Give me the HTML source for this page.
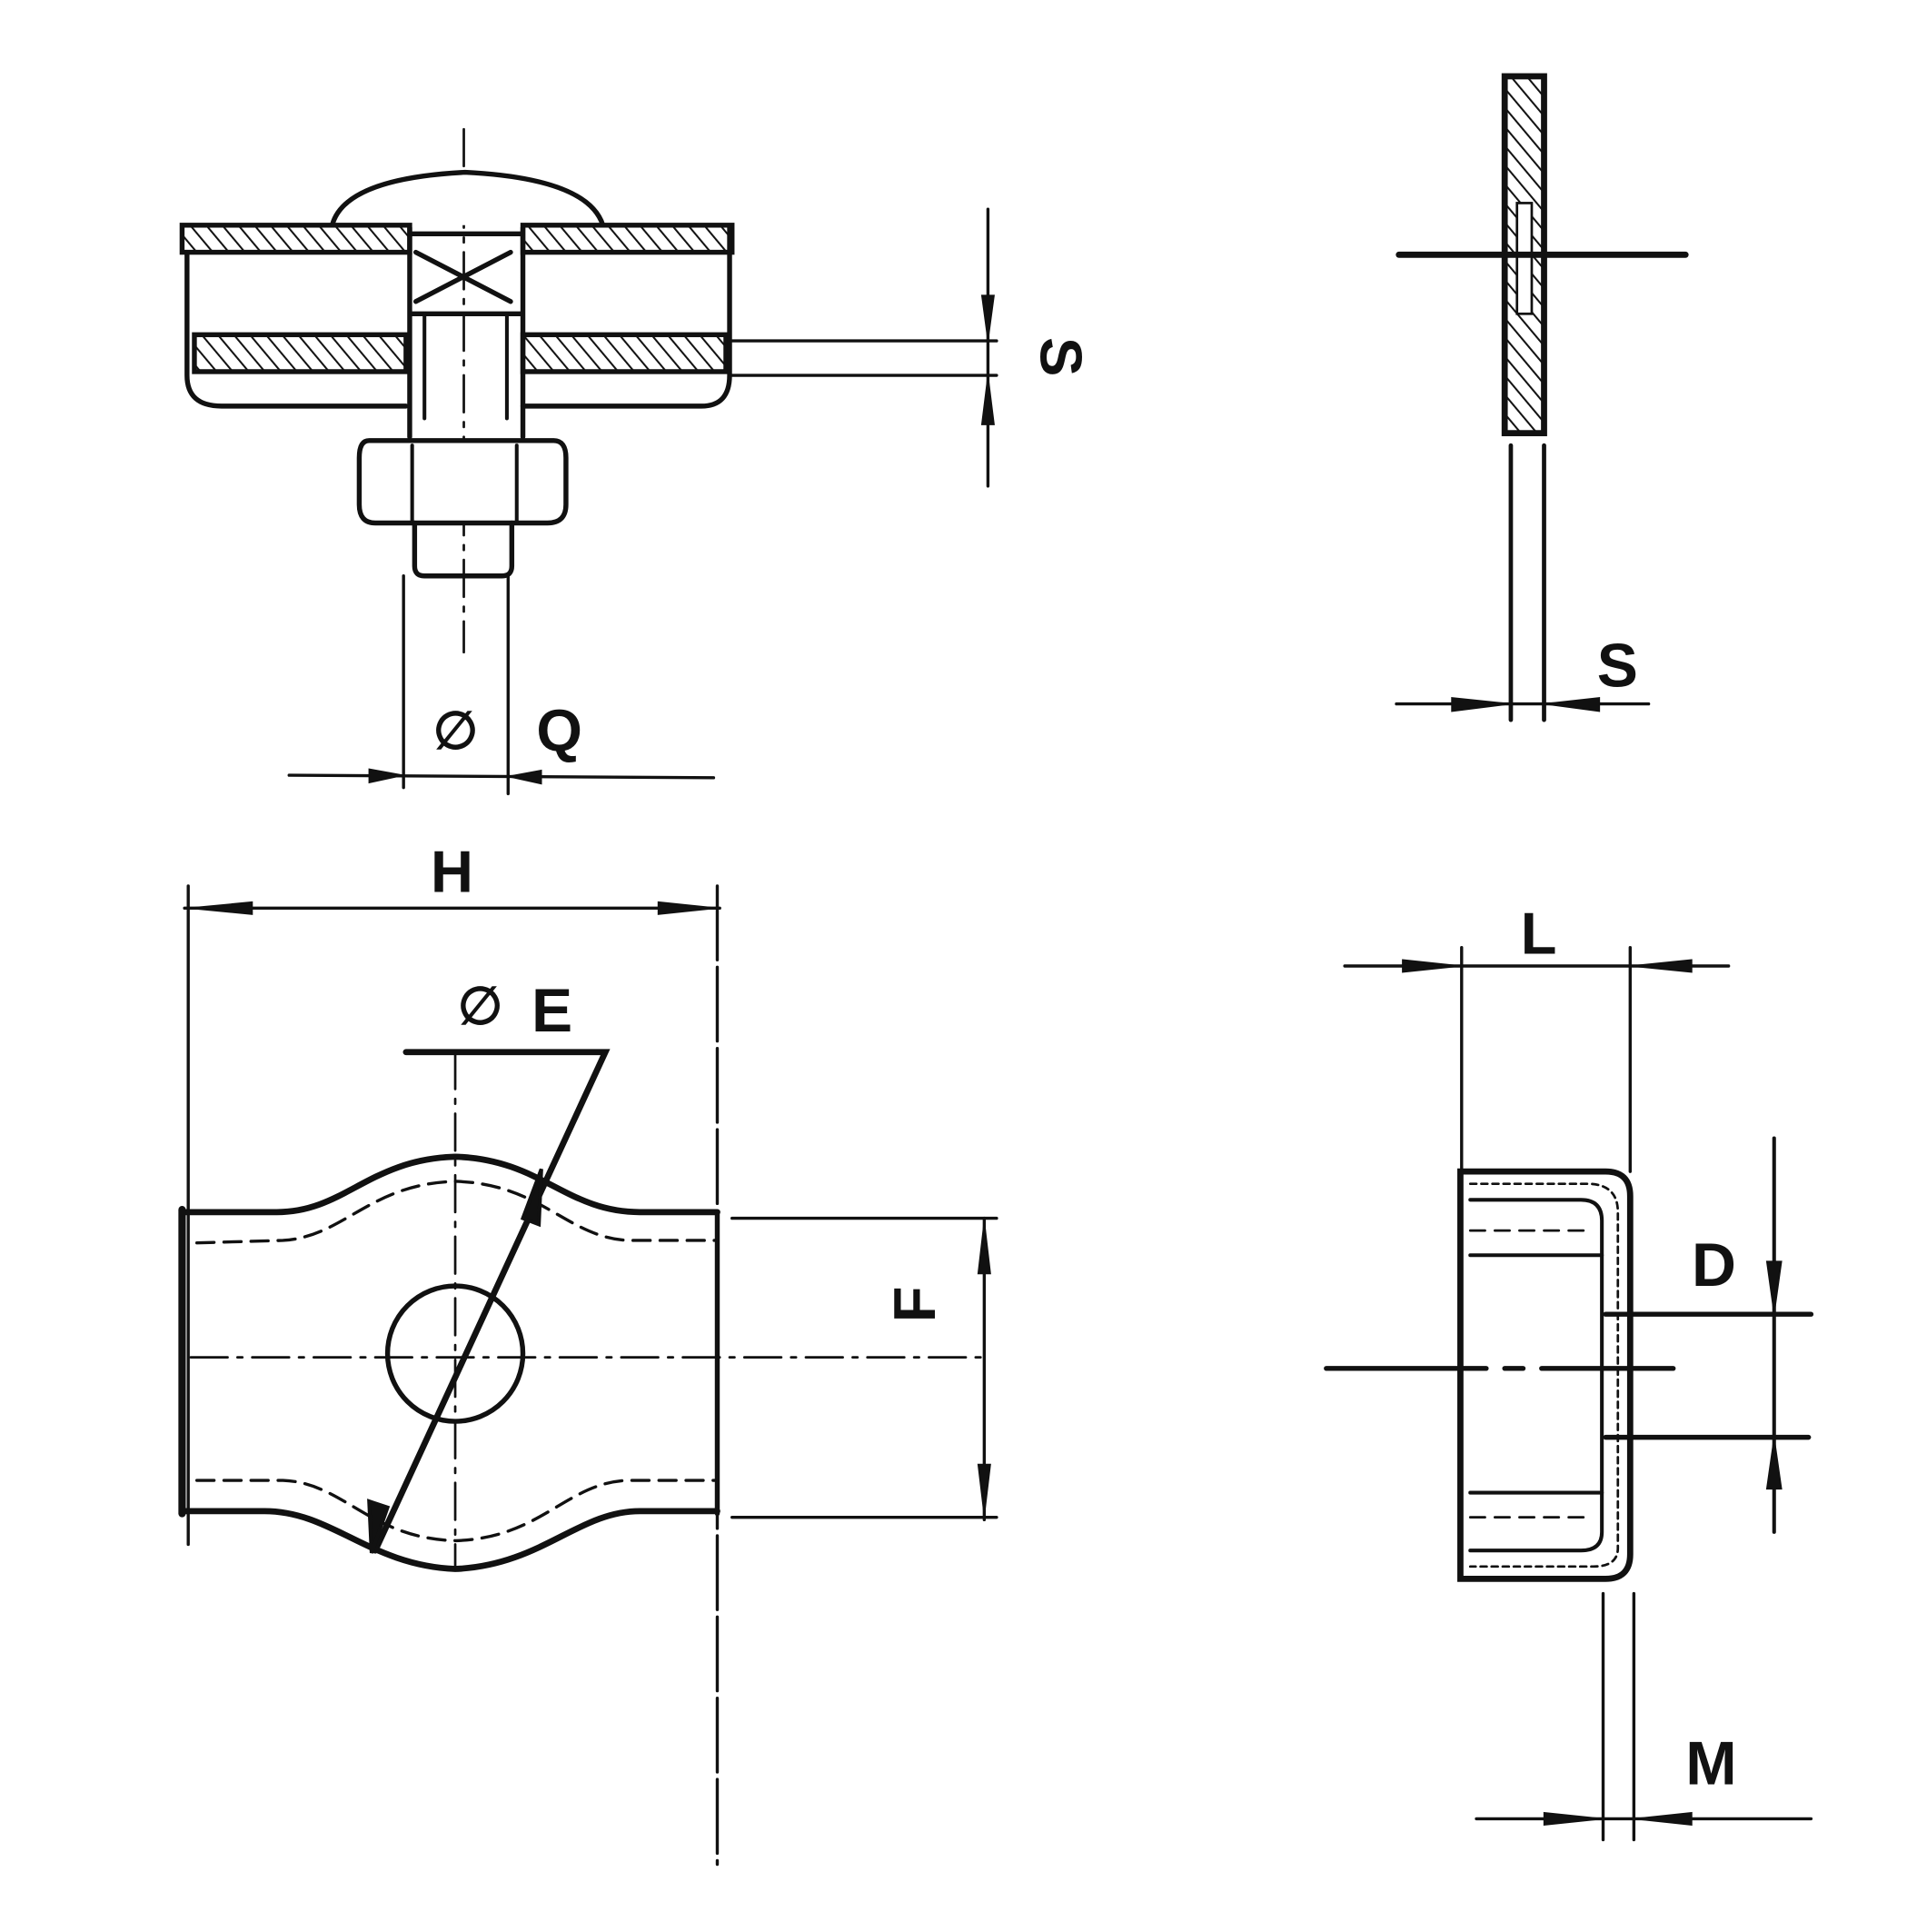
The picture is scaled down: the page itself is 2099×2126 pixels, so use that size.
<!DOCTYPE html>
<html><head><meta charset="utf-8"><style>
html,body{margin:0;padding:0;background:#fff;}
svg{display:block}
text{font-family:"Liberation Sans",sans-serif;font-weight:bold;fill:#111}
</style></head><body>
<svg width="2099" height="2126" viewBox="0 0 1550 1570" preserveAspectRatio="none" xmlns="http://www.w3.org/2000/svg">
<defs>
<pattern id="h" width="10" height="10" patternUnits="userSpaceOnUse" patternTransform="rotate(-40)">
<rect width="10" height="10" fill="#fff"/><line x1="0" y1="0" x2="0" y2="10" stroke="#111" stroke-width="3"/></pattern>
</defs>
<g stroke="#111" fill="none" stroke-linecap="round">
<!-- TOP LEFT -->
<line x1="377" y1="105" x2="377" y2="530" stroke-width="2" stroke-dasharray="30,8,4,8"/>
<path d="M270 183 Q280 145 378 140 Q478 145 490 183" stroke-width="4" fill="#fff"/>
<rect x="148" y="183" width="185" height="22" fill="url(#h)" stroke-width="4"/>
<rect x="425" y="183" width="170" height="22" fill="url(#h)" stroke-width="4"/>
<rect x="158" y="272" width="172" height="30" fill="url(#h)" stroke-width="4"/>
<rect x="425" y="272" width="165" height="30" fill="url(#h)" stroke-width="4"/>
<path d="M152 205 L152 305 Q152 330 180 330 L330 330" stroke-width="4"/>
<path d="M425 330 L570 330 Q593 330 593 305 L593 185" stroke-width="4"/>
<path d="M333 185 L333 355 M425 185 L425 355 M333 190 L425 190 M338 205 L415 245 M415 205 L338 245 M333 255 L425 255" stroke-width="4"/>
<path d="M345 255 L345 340 M412 255 L412 340" stroke-width="3"/>
<path d="M300 358 L450 358 Q460 358 460 372 L460 410 Q460 425 445 425 L305 425 Q292 425 292 410 L292 372 Q292 358 300 358 Z" stroke-width="4" fill="#fff"/>
<path d="M335 362 L335 425 M420 362 L420 425" stroke-width="3"/>
<path d="M337 425 L337 460 Q337 468 345 468 L408 468 Q416 468 416 460 L416 425" stroke-width="4"/>
<line x1="328" y1="468" x2="328" y2="640" stroke-width="2.5"/>
<line x1="413" y1="468" x2="413" y2="645" stroke-width="2.5"/>
<line x1="235" y1="630" x2="580" y2="632" stroke-width="2.5"/>
<path d="M300 625 L328 630 L300 636 Z M440 626 L413 631 L440 637 Z" fill="#111" stroke-width="1"/>
<line x1="595" y1="277" x2="810" y2="277" stroke-width="2.5"/>
<line x1="595" y1="305" x2="810" y2="305" stroke-width="2.5"/>
<line x1="803" y1="170" x2="803" y2="395" stroke-width="2.5"/>
<path d="M798 240 L803 277 L808 240 Z M798 345 L803 305 L808 345 Z" fill="#111" stroke-width="1"/>
<!-- TOP RIGHT -->
<rect x="1223" y="62" width="32" height="290" fill="url(#h)" stroke-width="5"/>
<rect x="1233" y="165" width="12" height="90" fill="#fff" stroke-width="2"/>
<line x1="1137" y1="207" x2="1370" y2="207" stroke-width="5"/>
<line x1="1228" y1="362" x2="1228" y2="585" stroke-width="3.5"/>
<line x1="1255" y1="362" x2="1255" y2="585" stroke-width="3.5"/>
<line x1="1135" y1="572" x2="1340" y2="572" stroke-width="2.5"/>
<path d="M1180 567 L1228 572 L1180 578 Z M1300 567 L1255 572 L1300 578 Z" fill="#111" stroke-width="1"/>
<!-- BOTTOM LEFT -->
<line x1="150" y1="738" x2="585" y2="738" stroke-width="2.5"/>
<path d="M205 733 L153 738 L205 743 Z M535 733 L583 738 L535 743 Z" fill="#111" stroke-width="1"/>
<line x1="153" y1="720" x2="153" y2="1255" stroke-width="2.5"/>
<line x1="583" y1="720" x2="583" y2="1515" stroke-width="2.5" stroke-dasharray="60,6"/>
<line x1="370" y1="855" x2="370" y2="1275" stroke-width="2" stroke-dasharray="30,8,4,8"/>
<path d="M148 985 L225 985 C280 985 300 942 370 940 C440 942 460 985 520 985 L583 985" stroke-width="5"/>
<path d="M160 1010 L230 1008 C280 1005 300 962 370 960 C440 962 460 1005 510 1008 L583 1008" stroke-width="2.5" stroke-dasharray="14,8"/>
<path d="M148 1228 L215 1228 C270 1228 300 1272 370 1275 C440 1272 470 1228 520 1228 L583 1228" stroke-width="5"/>
<path d="M160 1203 L230 1203 C280 1205 300 1250 370 1252 C440 1250 460 1205 510 1203 L583 1203" stroke-width="2.5" stroke-dasharray="14,8"/>
<line x1="148" y1="983" x2="148" y2="1230" stroke-width="6"/>
<line x1="583" y1="985" x2="583" y2="1230" stroke-width="4"/>
<line x1="155" y1="1103" x2="805" y2="1103" stroke-width="2" stroke-dasharray="30,8,4,8"/>
<circle cx="370" cy="1100" r="55" stroke-width="4"/>
<path d="M330 855 L492 855 L305 1260" stroke-width="5"/>
<path d="M425 990 L440 950 L438 995 Z M315 1225 L302 1262 L300 1220 Z" fill="#111" stroke-width="3"/>
<line x1="595" y1="990" x2="810" y2="990" stroke-width="2.5"/>
<line x1="595" y1="1233" x2="810" y2="1233" stroke-width="2.5"/>
<line x1="800" y1="990" x2="800" y2="1235" stroke-width="2.5"/>
<path d="M795 1035 L800 992 L805 1035 Z M795 1190 L800 1232 L805 1190 Z" fill="#111" stroke-width="1"/>
<!-- BOTTOM RIGHT -->
<line x1="1093" y1="785" x2="1405" y2="785" stroke-width="2.5"/>
<path d="M1140 780 L1188 785 L1140 790 Z M1375 780 L1325 785 L1375 790 Z" fill="#111" stroke-width="1"/>
<line x1="1188" y1="770" x2="1188" y2="952" stroke-width="2.5"/>
<line x1="1325" y1="770" x2="1325" y2="952" stroke-width="2.5"/>
<path d="M1187 952 L1305 952 Q1325 952 1325 972 L1325 1263 Q1325 1283 1305 1283 L1187 1283 Z" stroke-width="5"/>
<path d="M1195 962 L1290 962 Q1315 962 1315 985 L1315 1258 Q1315 1273 1295 1273 L1195 1273" stroke-width="2" stroke-dasharray="5,4"/>
<path d="M1195 975 L1285 975 Q1302 975 1302 992 L1302 1245 Q1302 1260 1285 1260 L1195 1260" stroke-width="3"/>
<line x1="1195" y1="1000" x2="1290" y2="1000" stroke-width="2" stroke-dasharray="12,8"/>
<line x1="1195" y1="1020" x2="1302" y2="1020" stroke-width="3"/>
<line x1="1195" y1="1213" x2="1302" y2="1213" stroke-width="3"/>
<line x1="1195" y1="1233" x2="1290" y2="1233" stroke-width="2" stroke-dasharray="12,8"/>
<line x1="1078" y1="1112" x2="1360" y2="1112" stroke-width="4" stroke-dasharray="130,15,15,15"/>
<line x1="1305" y1="1068" x2="1472" y2="1068" stroke-width="4"/>
<line x1="1305" y1="1168" x2="1470" y2="1168" stroke-width="4"/>
<line x1="1442" y1="925" x2="1442" y2="1245" stroke-width="3"/>
<path d="M1436 1025 L1442 1068 L1448 1025 Z M1436 1210 L1442 1168 L1448 1210 Z" fill="#111" stroke-width="1"/>
<line x1="1303" y1="1295" x2="1303" y2="1495" stroke-width="2.5"/>
<line x1="1328" y1="1295" x2="1328" y2="1495" stroke-width="2.5"/>
<line x1="1200" y1="1478" x2="1472" y2="1478" stroke-width="2.5"/>
<path d="M1255 1473 L1303 1478 L1255 1483 Z M1375 1473 L1328 1478 L1375 1483 Z" fill="#111" stroke-width="1"/>
</g>
<text x="352" y="608" font-size="42" font-weight="normal">∅</text>
<text x="436" y="610" font-size="48">Q</text>
<text x="846" y="290" font-size="48" transform="rotate(90 846 290)" text-anchor="middle">S</text>
<text x="1298" y="558" font-size="50">S</text>
<text x="350" y="725" font-size="48">H</text>
<text x="372" y="832" font-size="42" font-weight="normal">∅</text>
<text x="432" y="838" font-size="50">E</text>
<text x="778" y="1078" font-size="48" transform="rotate(-90 760 1078)" text-anchor="middle">F</text>
<text x="1236" y="775" font-size="48">L</text>
<text x="1375" y="1045" font-size="50">D</text>
<text x="1370" y="1450" font-size="50">M</text>
</svg>
</body></html>
